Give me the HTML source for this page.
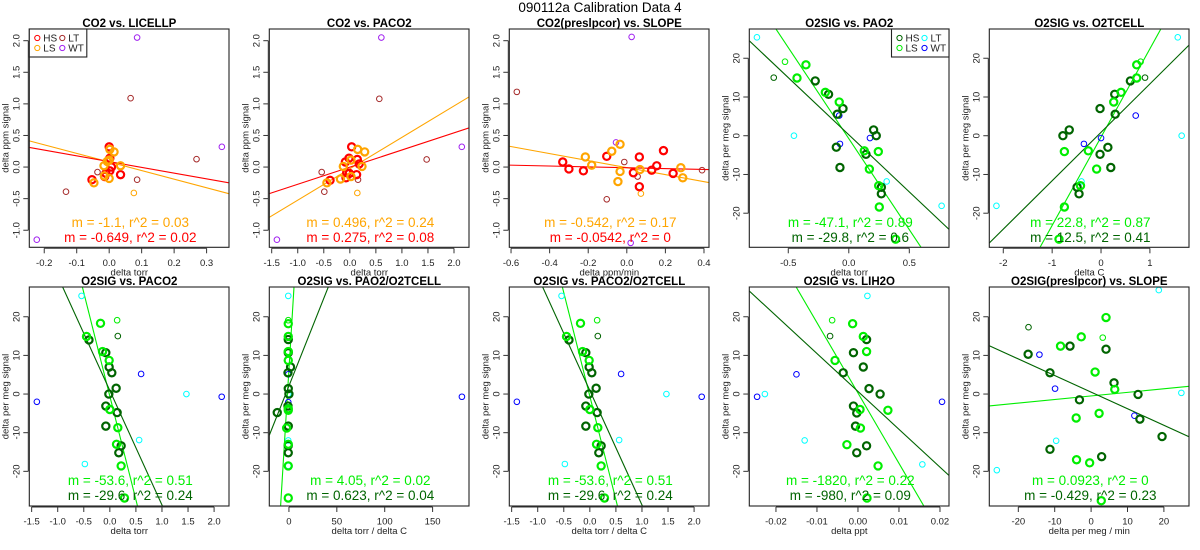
<!DOCTYPE html>
<html><head><meta charset="utf-8">
<style>
html,body{margin:0;padding:0;background:#fff;width:1200px;height:550px;overflow:hidden;}
svg{display:block;font-family:"Liberation Sans",Arial,sans-serif;}
</style></head>
<body>
<svg id="chart" width="1200" height="550" viewBox="0 0 1200 550" xmlns="http://www.w3.org/2000/svg">
<text x="600" y="12" text-anchor="middle" font-size="13.5">090112a   Calibration Data 4</text>
</svg>
<script>
// ---------- DATA ----------
// Panel 1: CO2 vs. LICELLP
const p1HS=[[0,0.32],[0.002,0.14],[0.007,0.0],[0.002,-0.06],[-0.01,-0.1],[-0.014,-0.15],[0.035,-0.12],[-0.053,-0.2]];
const p1LS=[[0.002,0.28],[0.015,0.24],[-0.006,0.09],[0,0.11],[-0.016,0.02],[0.035,0.02],[0,-0.18],[-0.015,-0.14],[-0.047,-0.25]];
const p1HSthin=[];
const p1LSthin=[[0.076,-0.41]];
const p1LT=[[0.066,1.09],[-0.036,-0.08],[-0.133,-0.39],[0.086,-0.2],[0.269,0.125]];
const p1WT=[[0.086,2.05],[0.347,0.32],[-0.223,-1.15]];
const p1Fit=[[-1.36,0.08],[-0.91,0.086]];
// Panel 2: CO2 vs. PACO2
const p2HS=[[0.035,0.32],[-0.016,0.14],[0.144,0.12],[-0.086,0.08],[0.18,0.05],[-0.06,-0.09],[-0.01,-0.1],[0.13,-0.12],[-0.074,-0.17],[-0.38,-0.21]];
const p2LS=[[0.15,0.28],[0.285,0.24],[0.022,0.11],[-0.125,0.01],[0.234,0.01],[0.022,-0.15],[-0.18,-0.19],[-0.44,-0.25]];
const p2HSthin=[];
const p2LSthin=[[0.144,-0.41]];
const p2LT=[[0.566,1.08],[-0.54,-0.08],[-0.49,-0.39],[0.157,-0.2],[1.475,0.12]];
const p2WT=[[0.605,2.05],[2.15,0.32],[-1.4,-1.15]];
const p2Fit=[[0.497,-0.027],[0.271,-0.001]];
// Panel 3: CO2(preslpcor) vs. SLOPE
const p3HS=[[-0.332,0.08],[-0.3,-0.03],[-0.225,-0.06],[-0.104,0.17],[0.065,0.16],[0.19,0.26],[0.034,-0.09],[0.065,-0.31],[0.129,-0.05],[0.155,0.02],[0.24,-0.1]];
const p3LS=[[-0.215,0.16],[-0.182,0.03],[-0.078,0.25],[-0.035,0.36],[-0.035,-0.07],[-0.046,-0.23],[0.068,-0.04],[0.28,-0.01],[0.29,-0.17]];
const p3HSthin=[];
const p3LSthin=[[0.073,-0.42]];
const p3LT=[[-0.57,1.19],[-0.013,0.08],[-0.104,-0.51],[0.056,-0.15],[0.39,-0.05]];
const p3WT=[[0.025,2.06],[-0.056,0.39],[0.02,-1.2]];
const p3Fit=[[-0.556,-0.009],[-0.068,-0.011]];
// Panel 4: O2SIG vs. PAO2
const p4HS=[[-0.277,14.15],[-0.167,10.7],[-0.048,7.0],[-0.095,5.55],[-0.103,-2.97],[-0.073,-8.2],[0.205,1.5],[0.227,0],[0.142,-4.8],[0.269,-13.3],[0.269,-15.0]];
const p4LS=[[-0.354,18.3],[-0.428,14.9],[-0.194,11.2],[-0.079,8.7],[0.128,-3.9],[0.244,-4.1],[0.17,-8.6],[0.247,-12.9],[0.252,-18.4],[0.387,-26.7]];
const p4HSthin=[[-0.62,15.0]];
const p4LSthin=[[-0.527,19.1]];
const p4LT=[[-0.759,25.4],[-0.453,0],[0.313,-11.8],[0.767,-18.1]];
const p4WT=[[-0.079,5.2],[-0.073,-2.1],[0.175,-0.6]];
const p4Fit=[[-47.0,-0.74],[-29.5,0.25]];
// Panel 5: O2SIG vs. O2TCELL
const p5HS=[[0.6,14.15],[0.28,10.7],[-0.02,7.0],[0.29,5.55],[-0.65,1.5],[-0.78,0],[0.14,-3.0],[-0.02,-4.8],[0.2,-8.2],[-0.49,-13.3],[-0.45,-15.0]];
const p5LS=[[0.73,18.3],[0.73,14.9],[0.41,11.2],[0.26,8.7],[-0.75,-4.1],[-0.26,-3.9],[-0.09,-8.6],[-0.42,-12.9],[-0.75,-18.4],[-0.86,-26.7]];
const p5HSthin=[[0.9,15.0]];
const p5LSthin=[[0.81,19.1]];
const p5LT=[[1.57,25.4],[1.65,0],[-0.4,-11.8],[-2.14,-18.1]];
const p5WT=[[0.71,5.2],[-0.35,-2.1],[0,-0.6]];
const p5Fit=[[22.8,-0.35],[12.5,0.88]];
// Panel 6: O2SIG vs. PACO2
const p6HS=[[-0.40,14.0],[-0.077,10.7],[-0.013,7.0],[0.038,5.5],[0.121,1.5],[-0.019,0],[-0.077,-3.1],[0.14,-4.8],[-0.077,-8.3],[0.217,-13.4],[0.172,-15.2]];
const p6LS=[[-0.179,18.3],[-0.447,14.9],[-0.14,11.0],[-0.013,8.7],[0,-4.0],[0.153,-8.7],[0.128,-13.0],[0.217,-18.6],[0.281,-26.9]];
const p6HSthin=[[0.153,15.0]];
const p6LSthin=[[0.14,19.1]];
const p6LT=[[-0.543,25.4],[1.469,0],[0.562,-11.9],[-0.479,-18.1]];
const p6WT=[[-1.40,-2.0],[0.60,5.2],[2.146,-0.7]];
const p6Fit=[[-53.6,-0.56],[-29.6,0.9]];
// Panel 7: O2SIG vs. PAO2/O2TCELL
const p7HS=[[-0.7,14.1],[-0.7,10.7],[1.7,7.0],[-1,5.5],[-0.7,1.4],[0,0],[-1,-3.1],[-12.2,-4.8],[-0.7,-8.3],[-0.7,-13.3],[-0.7,-15.2]];
const p7LS=[[-0.7,18.2],[-0.7,14.9],[-0.7,11.0],[-0.7,8.7],[-0.7,-4.2],[-0.7,-3.8],[-2.4,-8.8],[-0.7,-13.0],[-0.7,-18.6],[-0.7,-26.9]];
const p7HSthin=[[-0.7,15.0]];
const p7LSthin=[[-0.7,19.1]];
const p7LT=[[-0.7,25.4],[-0.7,0],[-0.7,-12],[-0.7,-18.6]];
const p7WT=[[-0.7,5.1],[-0.7,-2.1],[180.6,-0.7]];
const p7Fit=[[4.05,6.3],[0.623,2.1]];
// Panel 8: O2SIG vs. PACO2/O2TCELL
const p8HS=[[-0.40,14.0],[-0.077,10.7],[-0.013,7.0],[0.038,5.5],[0.121,1.5],[-0.019,0],[-0.077,-3.1],[0.14,-4.8],[-0.077,-8.3],[0.217,-13.4],[0.172,-15.2]];
const p8LS=[[-0.179,18.3],[-0.447,14.9],[-0.14,11.0],[-0.013,8.7],[0,-4.0],[0.153,-8.7],[0.128,-13.0],[0.217,-18.6],[0.281,-26.9]];
const p8HSthin=[[0.153,15.0]];
const p8LSthin=[[0.14,19.1]];
const p8LT=[[-0.543,25.4],[1.469,0],[0.562,-11.9],[-0.479,-18.1]];
const p8WT=[[-1.40,-2.0],[0.60,5.2],[2.146,-0.7]];
const p8Fit=[[-53.6,-0.56],[-29.6,0.9]];
// Panel 9: O2SIG vs. LIH2O
const p9HS=[[0.0021,14.1],[-0.0011,10.7],[0.0013,7.0],[-0.0036,5.5],[0.0027,1.4],[0.0054,0],[-0.0011,-3.1],[-0.0003,-4.9],[-0.0006,-8.3],[0.0021,-13.4],[-0.0003,-15.2]];
const p9LS=[[-0.0013,18.2],[0.0013,14.9],[0.0021,11.0],[-0.0056,8.7],[0.0005,-4.0],[0.0073,-4.2],[0.0006,-8.8],[-0.0027,-13.1],[0.0049,-18.6],[0.0022,-26.9]];
const p9HSthin=[[-0.0068,15.0]];
const p9LSthin=[[-0.0063,19.1]];
const p9LT=[[0.0023,25.4],[-0.0227,0],[-0.013,-12],[0.0157,-18.2]];
const p9WT=[[-0.015,5.1],[-0.0246,-0.7],[0.0205,-2.0]];
const p9Fit=[[-1820,0.27],[-980,0.68]];
// Panel 10: O2SIG(preslpcor) vs. SLOPE
const p10HS=[[-17.3,10.3],[-11.3,5.5],[-5.8,12.4],[4.1,11.6],[-3.2,-1.5],[6.3,2.9],[12.9,-0.1],[13.4,-6.5],[19.5,-11.0],[-11.3,-14.3],[2.9,-16.2]];
const p10LS=[[4.1,19.8],[-2.7,14.8],[-8.4,12.4],[1.1,5.7],[6.5,1.2],[-4.1,-6.2],[2.2,-5.0],[-4.0,-17.0],[-0.4,-17.8],[2.8,-27.6]];
const p10HSthin=[[-17.2,17.3]];
const p10LSthin=[[3.2,14.6]];
const p10LT=[[18.6,26.9],[24.8,0.3],[-9.6,-12.1],[-25.9,-19.7]];
const p10WT=[[-14.2,10.2],[-9.9,1.4],[11.9,-5.6]];
const p10Fit=[[0.0923,-0.49],[-0.429,0.5]];

const titles=["CO2 vs. LICELLP","CO2 vs. PACO2","CO2(preslpcor) vs. SLOPE","O2SIG vs. PAO2","O2SIG vs. O2TCELL","O2SIG vs. PACO2","O2SIG vs. PAO2/O2TCELL","O2SIG vs. PACO2/O2TCELL","O2SIG vs. LIH2O","O2SIG(preslpcor) vs. SLOPE"];
const xLabels=["delta torr","delta torr","delta ppm/min","delta torr","delta C","delta torr","delta torr / delta C","delta torr / delta C","delta ppt","delta per meg / min"];
const fitTexts=[["m = -1.1, r^2 = 0.03","m = -0.649, r^2 = 0.02"],["m = 0.496, r^2 = 0.24","m = 0.275, r^2 = 0.08"],["m = -0.542, r^2 = 0.17","m = -0.0542, r^2 = 0"],["m = -47.1, r^2 = 0.89","m = -29.8, r^2 = 0.6"],["m = 22.8, r^2 = 0.87","m = 12.5, r^2 = 0.41"],["m = -53.6, r^2 = 0.51","m = -29.6, r^2 = 0.24"],["m = 4.05, r^2 = 0.02","m = 0.623, r^2 = 0.04"],["m = -53.6, r^2 = 0.51","m = -29.6, r^2 = 0.24"],["m = -1820, r^2 = 0.22","m = -980, r^2 = 0.09"],["m = 0.0923, r^2 = 0","m = -0.429, r^2 = 0.23"]];
const xTickVals=[[-0.2,-0.1,0,0.1,0.2,0.3],[-1.5,-1,-0.5,0,0.5,1,1.5,2],[-0.6,-0.4,-0.2,0,0.2,0.4],[-0.5,0,0.5],[-2,-1,0,1],[-1.5,-1,-0.5,0,0.5,1,1.5,2],[0,50,100,150],[-1.5,-1,-0.5,0,0.5,1,1.5,2],[-0.02,-0.01,0,0.01,0.02],[-20,-10,0,10,20]];
const xTickLabels=[["-0.2","-0.1","0.0","0.1","0.2","0.3"],["-1.5","-1.0","-0.5","0.0","0.5","1.0","1.5","2.0"],["-0.6","-0.4","-0.2","0.0","0.2","0.4"],["-0.5","0.0","0.5"],["-2","-1","0","1"],["-1.5","-1.0","-0.5","0.0","0.5","1.0","1.5","2.0"],["0","50","100","150"],["-1.5","-1.0","-0.5","0.0","0.5","1.0","1.5","2.0"],["-0.02","-0.01","0.00","0.01","0.02"],["-20","-10","0","10","20"]];
const co2YTicks=[-1,-0.5,0,0.5,1,1.5,2];
const co2YLabels=["-1.0","-0.5","0.0","0.5","1.0","1.5","2.0"];
const o2YTicks=[-20,-10,0,10,20];
const o2YLabels=["-20","-10","0","10","20"];

// ---------- LAYOUT (not data) ----------
const xDomains=[[-0.246,0.369],[-1.546,2.288],[-0.609,0.426],[-0.822,0.828],[-2.286,1.80],[-1.545,2.286],[-20.5,188],[-1.545,2.286],[-0.0265,0.0222],[-27.97,26.9]];
const allData=[
 [p1HS,p1LS,p1HSthin,p1LSthin,p1LT,p1WT,p1Fit],[p2HS,p2LS,p2HSthin,p2LSthin,p2LT,p2WT,p2Fit],[p3HS,p3LS,p3HSthin,p3LSthin,p3LT,p3WT,p3Fit],
 [p4HS,p4LS,p4HSthin,p4LSthin,p4LT,p4WT,p4Fit],[p5HS,p5LS,p5HSthin,p5LSthin,p5LT,p5WT,p5Fit],[p6HS,p6LS,p6HSthin,p6LSthin,p6LT,p6WT,p6Fit],
 [p7HS,p7LS,p7HSthin,p7LSthin,p7LT,p7WT,p7Fit],[p8HS,p8LS,p8HSthin,p8LSthin,p8LT,p8WT,p8Fit],[p9HS,p9LS,p9HSthin,p9LSthin,p9LT,p9WT,p9Fit],
 [p10HS,p10LS,p10HSthin,p10LSthin,p10LT,p10WT,p10Fit]];
const co2Cols={HS:"#ff0000",LS:"#ffa500",LT:"#a52a2a",WT:"#a020f0"};
const o2Cols={HS:"#006400",LS:"#00ee00",LT:"#00ffff",WT:"#0000ff"};
const NS="http://www.w3.org/2000/svg";
const svg=document.getElementById('chart');
function mk(tag,attrs,parent){const e=document.createElementNS(NS,tag);for(const k in attrs)e.setAttribute(k,attrs[k]);(parent||svg).appendChild(e);return e;}

for(let i=0;i<10;i++){
  const row=i<5?0:1, col=i%5;
  const L=240*col+29.3, R=L+199.7;
  const T=row?287:29, B=row?506:247.3;
  const isCO2=i<3;
  const yd=isCO2?[-1.27,2.185]:(row?[-28.97,27.7]:[-28.8,27.55]);
  const xd=xDomains[i];
  const sx=v=>L+(v-xd[0])/(xd[1]-xd[0])*(R-L);
  const sy=v=>B-(v-yd[0])/(yd[1]-yd[0])*(B-T);
  const cols=isCO2?co2Cols:o2Cols;
  const g=mk('g',{});
  
  
  const clipId='clip'+i;
  const cp=mk('clipPath',{id:clipId},g);
  mk('rect',{x:L,y:T,width:R-L,height:B-T},cp);
  const t=mk('text',{x:L+100,y:T-2,'text-anchor':'middle','font-size':'11.5','font-weight':'bold'},g);
  
  
  t.textContent=titles[i];
  const xv=xTickVals[i];
  const xa=mk('g',{},g);
  
  
  mk('line',{x1:sx(xv[0]),x2:sx(xv[xv.length-1]),y1:B+1,y2:B+1,stroke:'#333','stroke-width':1},xa);
  xv.forEach((v,k)=>{
    mk('line',{x1:sx(v),x2:sx(v),y1:B+1,y2:B+6,stroke:'#333','stroke-width':1},xa);
    const tl=mk('text',{x:sx(v),y:B+18.5,'text-anchor':'middle','font-size':'9.5',fill:'#222'},xa);
    
    
    tl.textContent=xTickLabels[i][k];
  });
  const xt=mk('text',{x:L+100,y:B+28,'text-anchor':'middle','font-size':'9.5',fill:'#222'},g);
  
  
  xt.textContent=xLabels[i];
  const yv=isCO2?co2YTicks:o2YTicks, yl=isCO2?co2YLabels:o2YLabels;
  const ya=mk('g',{},g);
  
  
  mk('line',{x1:L-1,x2:L-1,y1:sy(yv[0]),y2:sy(yv[yv.length-1]),stroke:'#333','stroke-width':1},ya);
  yv.forEach((v,k)=>{
    mk('line',{x1:L-1,x2:L-6,y1:sy(v),y2:sy(v),stroke:'#333','stroke-width':1},ya);
    const tl=mk('text',{x:0,y:0,'text-anchor':'middle','font-size':'9.5',fill:'#222',transform:`translate(${L-10},${sy(v)}) rotate(-90)`},ya);
    
    
    tl.textContent=yl[k];
  });
  const yt=mk('text',{x:0,y:0,'text-anchor':'middle','font-size':'9.5',fill:'#222',transform:`translate(${L-21},${(T+B)/2}) rotate(-90)`},g);
  
  
  yt.textContent=isCO2?'delta ppm signal':'delta per meg signal';
  const d=allData[i];
  const pg=mk('g',{'clip-path':`url(#${clipId})`},g);
  const fit=d[6];
  const fitCols=[cols.LS,cols.HS];
  fit.forEach((f,k)=>{
    const ln=mk('line',{x1:sx(xd[0]),y1:sy(f[0]*xd[0]+f[1]),x2:sx(xd[1]),y2:sy(f[0]*xd[1]+f[1]),stroke:fitCols[k],'stroke-width':1.1},pg);
    
    
  });
  const groups=[[d[4],cols.LT,2.8,1,'lt-point'],[d[5],cols.WT,2.8,1,'wt-point'],[d[2],cols.HS,2.8,1,'hs-thin-point'],[d[3],cols.LS,2.8,1,'ls-thin-point'],[d[0],cols.HS,3.6,2.2,'hs-point'],[d[1],cols.LS,3.6,2.2,'ls-point']];
  groups.forEach(([pts,c,r,w,nm])=>{
    pts.forEach(p=>{
      const ci=mk('circle',{cx:sx(p[0]),cy:sy(p[1]),r:r,fill:'none',stroke:c,'stroke-width':w},pg);
      
      
    });
  });
  const a1=mk('text',{x:L+101,y:T+198,'text-anchor':'middle','font-size':'13.5',fill:fitCols[0]},g);
  
  
  a1.textContent=fitTexts[i][0];
  const a2=mk('text',{x:L+101,y:T+213,'text-anchor':'middle','font-size':'13.5',fill:fitCols[1]},g);
  
  
  a2.textContent=fitTexts[i][1];
  const fr=mk('rect',{x:L,y:T,width:R-L,height:B-T,fill:'none',stroke:'#222','stroke-width':1.1},g);
  
  
  if(i===0||i===3){
    const lx=i===0?L:R-57.5, ly=T;
    const lg=mk('g',{},g);
    
    
    mk('rect',{x:lx,y:ly,width:57.5,height:28,fill:'#fff',stroke:'#222','stroke-width':1.1},lg);
    const ents=[['HS',cols.HS,0,0],['LS',cols.LS,0,1],['LT',cols.LT,1,0],['WT',cols.WT,1,1]];
    ents.forEach(([lab,c,cx,cy])=>{
      const e=mk('g',{},lg);
      
      
      const ex=lx+8+cx*25, ey=ly+9+cy*10;
      mk('circle',{cx:ex,cy:ey,r:2.6,fill:'none',stroke:c,'stroke-width':1},e);
      const tt=mk('text',{x:ex+6,y:ey+3.5,'font-size':'10',fill:'#222'},e);
      tt.textContent=lab;
    });
  }
}
</script>
</body></html>
